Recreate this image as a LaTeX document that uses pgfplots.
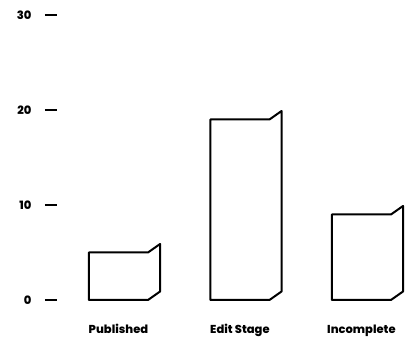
\documentclass[border=0pt]{standalone}
\usepackage{fontspec}
\setmainfont{Poppins}[BoldFont={Poppins ExtraBold}]
\usepackage{pgfplots}
\pgfplotsset{compat=1.18}

% geometry of the folded bars (x in category units, y in data units)
\newcommand\halfw{0.243}
\newcommand\depthx{0.100}
\newcommand\depthy{0.9}

% outline bar: front face plus a folded right side
\newcommand\slabbar[2]{%
  \pgfmathsetmacro\xa{#1-\halfw}%
  \pgfmathsetmacro\xb{#1+\halfw}%
  \pgfmathsetmacro\xc{#1+\halfw+\depthx}%
  \pgfmathsetmacro\yt{#2+\depthy}%
  \addplot[black, line width=2pt, line join=round, line cap=round]
    coordinates {(\xa,0) (\xa,#2) (\xb,#2) (\xc,\yt) (\xc,\depthy) (\xb,0) (\xa,0)};
}

\begin{document}
\begin{tikzpicture}[x=1pt,y=1pt]
\path[use as bounding box] (-57pt,-39pt) rectangle (355pt,300pt);
\begin{axis}[
  at={(0,0)}, anchor=south west,
  scale only axis,
  width=353pt, height=285pt,
  xmin=-0.506, xmax=2.4,
  ymin=0, ymax=30,
  clip=false,
  axis line style={draw=none},
  xtick={0,1,2},
  xticklabels={Published, Edit Stage, Incomplete},
  x tick style={draw=none},
  ytick={0,10,20,30},
  ytick pos=left,
  y tick style={black, line width=2pt},
  tick align=outside,
  major tick length=12pt,
  /pgf/number format/assume math mode=true,
  tick label style={font=\fontsize{11.5}{13}\selectfont\bfseries},
  yticklabel style={xshift=-10pt},
  xticklabel style={yshift=-9pt},
]
\slabbar{0}{5}
\slabbar{1}{19}
\slabbar{2}{9}
\end{axis}
\end{tikzpicture}
\end{document}
